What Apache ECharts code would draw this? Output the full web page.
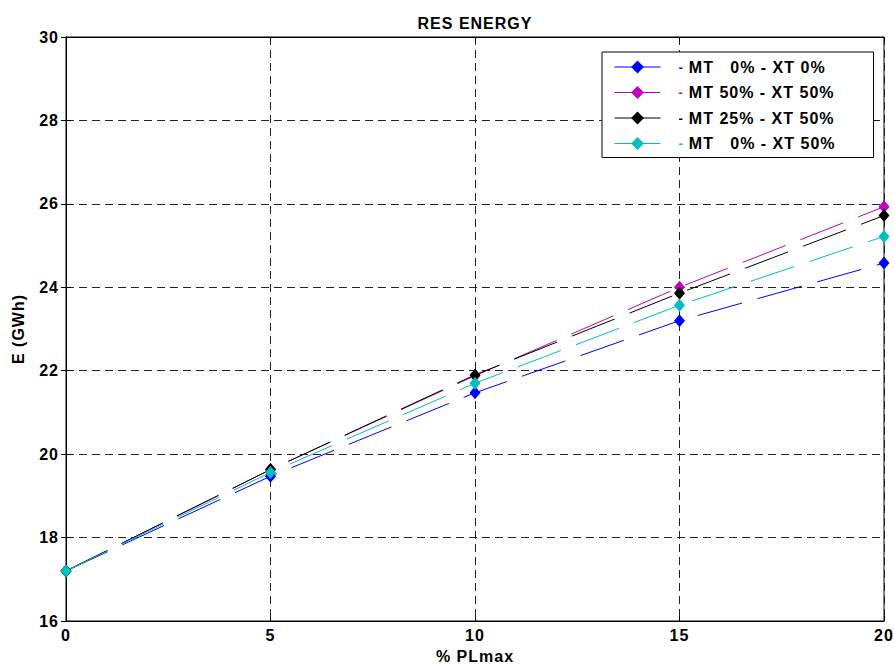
<!DOCTYPE html>
<html>
<head>
<meta charset="utf-8">
<script src="https://cdn.jsdelivr.net/npm/echarts@6/dist/echarts.min.js"></script>
<style>
  html, body { margin: 0; padding: 0; background: #fff; }
  #chart { width: 894px; height: 664px; }
  #chart text { letter-spacing: 1px; }
</style>
</head>
<body>
<div id="chart"></div>
<script>
const xValues = [0, 5, 10, 15, 20];
const seriesNames = ["MT   0% - XT 0%", "MT 50% - XT 50%", "MT 25% - XT 50%", "MT   0% - XT 50%"];
const seriesColors = ["#0000ff", "#bf00bf", "#000000", "#00bfbf"];
const mt0xt0 = [17.2, 19.47, 21.47, 23.2, 24.58];
const mt50xt50 = [17.2, 19.63, 21.88, 24.0, 25.93];
const mt25xt50 = [17.2, 19.63, 21.9, 23.86, 25.72];
const mt0xt50 = [17.2, 19.56, 21.7, 23.57, 25.22];
const seriesValues = [mt0xt0, mt50xt50, mt25xt50, mt0xt50];

const font = "Liberation Sans, Arial, sans-serif";
const chart = echarts.init(document.getElementById("chart"), null, { renderer: "svg" });

// small coloured dash before each legend label, like the original
const rich = {};
seriesColors.forEach((c, i) => {
  rich["d" + i] = { color: c, fontSize: 13, fontFamily: font, lineHeight: 18, padding: [0, 6, 0, 13] };
});
rich.t = { color: "#000", fontSize: 16, fontWeight: "bold", fontFamily: font, lineHeight: 18 };

const labelFont = { fontFamily: font, fontSize: 16, fontWeight: "bold", color: "#000" };
const gridLine = { show: true, lineStyle: { color: "#222", type: [8, 5], width: 1 } };
const tick = { show: true, inside: true, length: 5, lineStyle: { color: "#000" } };

chart.setOption({
  animation: false,
  backgroundColor: "#fff",
  title: {
    text: "RES ENERGY",
    left: 470,
    top: 10,
    textAlign: "center",
    textStyle: labelFont
  },
  grid: {
    left: 66, right: 10, top: 37, bottom: 43,
    outerBoundsMode: "none",
    show: true, borderColor: "#000", borderWidth: 1, backgroundColor: "transparent"
  },
  legend: {
    orient: "vertical",
    left: 602,
    top: 52,
    padding: [7, 54, 6, 12],
    itemGap: 9.5,
    itemWidth: 46,
    itemHeight: 16,
    itemStyle: { borderWidth: 0 },
    borderColor: "#000",
    borderWidth: 1,
    backgroundColor: "#fff",
    lineStyle: { type: "solid", width: 1 },
    data: seriesNames,
    formatter: (name) => {
      const i = seriesNames.indexOf(name);
      return "{d" + i + "|-}{t|" + name + "}";
    },
    textStyle: { rich: rich, fontFamily: font, fontSize: 16, fontWeight: "bold" }
  },
  xAxis: [
    {
      type: "value", min: 0, max: 20, interval: 5,
      name: "% PLmax", nameLocation: "middle", nameGap: 27,
      nameTextStyle: labelFont,
      axisLine: { show: true, lineStyle: { color: "#000" } },
      axisTick: tick,
      axisLabel: Object.assign({ margin: 6 }, labelFont),
      splitLine: gridLine
    },
    {
      type: "value", min: 0, max: 20, interval: 5, position: "top",
      axisLine: { show: true, lineStyle: { color: "#000" } },
      axisTick: tick,
      axisLabel: { show: false },
      splitLine: { show: false }
    }
  ],
  yAxis: [
    {
      type: "value", min: 16, max: 30, interval: 2,
      name: "E (GWh)", nameLocation: "middle", nameGap: 40, nameRotate: 90,
      nameTextStyle: labelFont,
      axisLine: { show: true, lineStyle: { color: "#000" } },
      axisTick: tick,
      axisLabel: Object.assign({ margin: 7 }, labelFont),
      splitLine: gridLine
    },
    {
      type: "value", min: 16, max: 30, interval: 2, position: "right",
      axisLine: { show: true, lineStyle: { color: "#000" } },
      axisTick: tick,
      axisLabel: { show: false },
      splitLine: { show: false }
    }
  ],
  series: seriesNames.map((name, i) => ({
    name: name,
    type: "line",
    data: xValues.map((x, j) => [x, seriesValues[i][j]]),
    symbol: "diamond",
    symbolSize: [11, 13],
    color: seriesColors[i],
    itemStyle: { color: seriesColors[i] },
    lineStyle: { color: seriesColors[i], width: 1, type: [46, 16] }
  }))
});
</script>
</body>
</html>
